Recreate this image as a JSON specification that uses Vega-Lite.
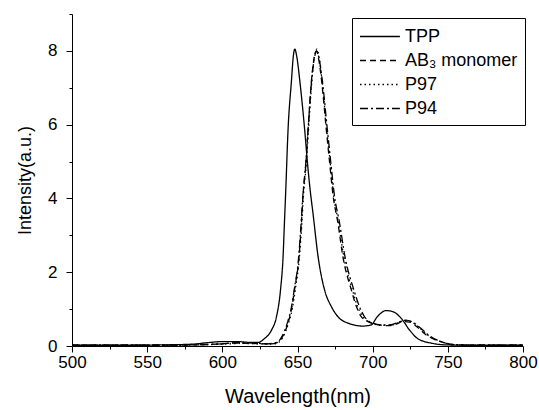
{
  "$schema": "https://vega.github.io/schema/vega-lite/v6.json",
  "width": 451,
  "height": 332,
  "autosize": "none",
  "padding": {"left": 72, "top": 14, "right": 16, "bottom": 64},
  "background": "white",
  "config": {
    "view": {"stroke": null},
    "font": "Liberation Sans",
    "axis": {"grid": false, "domainColor": "black", "tickColor": "black", "labelColor": "black", "titleColor": "black", "labelFont": "Liberation Sans", "titleFont": "Liberation Sans", "titleFontWeight": "normal", "labelFontSize": 17}
  },
  "data": {
    "values": [
      {"series": "TPP", "wl": 500, "I": 0.02},
      {"series": "TPP", "wl": 520, "I": 0.02},
      {"series": "TPP", "wl": 540, "I": 0.02},
      {"series": "TPP", "wl": 560, "I": 0.03},
      {"series": "TPP", "wl": 580, "I": 0.05},
      {"series": "TPP", "wl": 590, "I": 0.09},
      {"series": "TPP", "wl": 600, "I": 0.12},
      {"series": "TPP", "wl": 610, "I": 0.12},
      {"series": "TPP", "wl": 618, "I": 0.1},
      {"series": "TPP", "wl": 624, "I": 0.1},
      {"series": "TPP", "wl": 628, "I": 0.2},
      {"series": "TPP", "wl": 632.7, "I": 0.43},
      {"series": "TPP", "wl": 636, "I": 0.79},
      {"series": "TPP", "wl": 638.7, "I": 1.52},
      {"series": "TPP", "wl": 640.4, "I": 2.42},
      {"series": "TPP", "wl": 641.3, "I": 3.33},
      {"series": "TPP", "wl": 642.2, "I": 4.23},
      {"series": "TPP", "wl": 643.7, "I": 5.85},
      {"series": "TPP", "wl": 646, "I": 7.2},
      {"series": "TPP", "wl": 647.2, "I": 7.85},
      {"series": "TPP", "wl": 648.2, "I": 8.05},
      {"series": "TPP", "wl": 649.5, "I": 7.85},
      {"series": "TPP", "wl": 651.5, "I": 7.2},
      {"series": "TPP", "wl": 654.8, "I": 5.85},
      {"series": "TPP", "wl": 657, "I": 4.8},
      {"series": "TPP", "wl": 658.5, "I": 4.2},
      {"series": "TPP", "wl": 660.3, "I": 3.6},
      {"series": "TPP", "wl": 663.7, "I": 2.42},
      {"series": "TPP", "wl": 668, "I": 1.52},
      {"series": "TPP", "wl": 672.5, "I": 1.07},
      {"series": "TPP", "wl": 677, "I": 0.79},
      {"series": "TPP", "wl": 683.6, "I": 0.62},
      {"series": "TPP", "wl": 693.5, "I": 0.54},
      {"series": "TPP", "wl": 699, "I": 0.57},
      {"series": "TPP", "wl": 703, "I": 0.79},
      {"series": "TPP", "wl": 709, "I": 0.96},
      {"series": "TPP", "wl": 713.5, "I": 0.93},
      {"series": "TPP", "wl": 719, "I": 0.75},
      {"series": "TPP", "wl": 724.6, "I": 0.43},
      {"series": "TPP", "wl": 730, "I": 0.2},
      {"series": "TPP", "wl": 740, "I": 0.07},
      {"series": "TPP", "wl": 749, "I": 0.03},
      {"series": "TPP", "wl": 770, "I": 0.02},
      {"series": "TPP", "wl": 800, "I": 0.02},

      {"series": "AB₃ monomer", "wl": 500, "I": 0.02},
      {"series": "AB₃ monomer", "wl": 540, "I": 0.02},
      {"series": "AB₃ monomer", "wl": 580, "I": 0.03},
      {"series": "AB₃ monomer", "wl": 600, "I": 0.06},
      {"series": "AB₃ monomer", "wl": 610, "I": 0.08},
      {"series": "AB₃ monomer", "wl": 620, "I": 0.07},
      {"series": "AB₃ monomer", "wl": 628, "I": 0.06},
      {"series": "AB₃ monomer", "wl": 633, "I": 0.06},
      {"series": "AB₃ monomer", "wl": 637, "I": 0.1},
      {"series": "AB₃ monomer", "wl": 640, "I": 0.25},
      {"series": "AB₃ monomer", "wl": 643.7, "I": 0.62},
      {"series": "AB₃ monomer", "wl": 646, "I": 1.0},
      {"series": "AB₃ monomer", "wl": 648, "I": 1.52},
      {"series": "AB₃ monomer", "wl": 651, "I": 2.42},
      {"series": "AB₃ monomer", "wl": 652.6, "I": 3.33},
      {"series": "AB₃ monomer", "wl": 653.7, "I": 4.1},
      {"series": "AB₃ monomer", "wl": 655.5, "I": 4.9},
      {"series": "AB₃ monomer", "wl": 657, "I": 5.85},
      {"series": "AB₃ monomer", "wl": 659.3, "I": 7.2},
      {"series": "AB₃ monomer", "wl": 661, "I": 7.8},
      {"series": "AB₃ monomer", "wl": 662.6, "I": 8.0},
      {"series": "AB₃ monomer", "wl": 664, "I": 7.8},
      {"series": "AB₃ monomer", "wl": 666, "I": 7.2},
      {"series": "AB₃ monomer", "wl": 669.2, "I": 5.85},
      {"series": "AB₃ monomer", "wl": 671.4, "I": 4.96},
      {"series": "AB₃ monomer", "wl": 673.6, "I": 4.1},
      {"series": "AB₃ monomer", "wl": 676.9, "I": 3.33},
      {"series": "AB₃ monomer", "wl": 680.2, "I": 2.42},
      {"series": "AB₃ monomer", "wl": 685.8, "I": 1.52},
      {"series": "AB₃ monomer", "wl": 689.2, "I": 1.07},
      {"series": "AB₃ monomer", "wl": 692.5, "I": 0.79},
      {"series": "AB₃ monomer", "wl": 698, "I": 0.64},
      {"series": "AB₃ monomer", "wl": 704.6, "I": 0.57},
      {"series": "AB₃ monomer", "wl": 711, "I": 0.55},
      {"series": "AB₃ monomer", "wl": 716, "I": 0.6},
      {"series": "AB₃ monomer", "wl": 720, "I": 0.66},
      {"series": "AB₃ monomer", "wl": 724.6, "I": 0.65},
      {"series": "AB₃ monomer", "wl": 730, "I": 0.5},
      {"series": "AB₃ monomer", "wl": 735.6, "I": 0.3},
      {"series": "AB₃ monomer", "wl": 741, "I": 0.18},
      {"series": "AB₃ monomer", "wl": 746.7, "I": 0.1},
      {"series": "AB₃ monomer", "wl": 752, "I": 0.04},
      {"series": "AB₃ monomer", "wl": 770, "I": 0.02},
      {"series": "AB₃ monomer", "wl": 800, "I": 0.02},

      {"series": "P97", "wl": 500, "I": 0.02},
      {"series": "P97", "wl": 540, "I": 0.02},
      {"series": "P97", "wl": 580, "I": 0.03},
      {"series": "P97", "wl": 600, "I": 0.05},
      {"series": "P97", "wl": 612, "I": 0.07},
      {"series": "P97", "wl": 622, "I": 0.06},
      {"series": "P97", "wl": 633, "I": 0.05},
      {"series": "P97", "wl": 637.5, "I": 0.1},
      {"series": "P97", "wl": 640.5, "I": 0.25},
      {"series": "P97", "wl": 644, "I": 0.62},
      {"series": "P97", "wl": 646.5, "I": 1.0},
      {"series": "P97", "wl": 648.5, "I": 1.52},
      {"series": "P97", "wl": 651.3, "I": 2.42},
      {"series": "P97", "wl": 652.9, "I": 3.33},
      {"series": "P97", "wl": 654, "I": 4.1},
      {"series": "P97", "wl": 655.8, "I": 4.9},
      {"series": "P97", "wl": 657.3, "I": 5.85},
      {"series": "P97", "wl": 659.6, "I": 7.2},
      {"series": "P97", "wl": 661.3, "I": 7.85},
      {"series": "P97", "wl": 662.9, "I": 8.05},
      {"series": "P97", "wl": 664.3, "I": 7.85},
      {"series": "P97", "wl": 666.3, "I": 7.2},
      {"series": "P97", "wl": 669.5, "I": 5.85},
      {"series": "P97", "wl": 671.8, "I": 4.96},
      {"series": "P97", "wl": 674, "I": 4.1},
      {"series": "P97", "wl": 677.3, "I": 3.33},
      {"series": "P97", "wl": 680.8, "I": 2.42},
      {"series": "P97", "wl": 686.5, "I": 1.52},
      {"series": "P97", "wl": 690, "I": 1.07},
      {"series": "P97", "wl": 693.5, "I": 0.8},
      {"series": "P97", "wl": 699, "I": 0.63},
      {"series": "P97", "wl": 705.5, "I": 0.56},
      {"series": "P97", "wl": 712, "I": 0.56},
      {"series": "P97", "wl": 717, "I": 0.63},
      {"series": "P97", "wl": 721, "I": 0.69},
      {"series": "P97", "wl": 725.5, "I": 0.66},
      {"series": "P97", "wl": 731, "I": 0.5},
      {"series": "P97", "wl": 736.5, "I": 0.3},
      {"series": "P97", "wl": 742, "I": 0.17},
      {"series": "P97", "wl": 747.5, "I": 0.09},
      {"series": "P97", "wl": 753, "I": 0.04},
      {"series": "P97", "wl": 770, "I": 0.02},
      {"series": "P97", "wl": 800, "I": 0.02},

      {"series": "P94", "wl": 500, "I": 0.02},
      {"series": "P94", "wl": 540, "I": 0.02},
      {"series": "P94", "wl": 580, "I": 0.03},
      {"series": "P94", "wl": 600, "I": 0.06},
      {"series": "P94", "wl": 610, "I": 0.09},
      {"series": "P94", "wl": 620, "I": 0.08},
      {"series": "P94", "wl": 630, "I": 0.06},
      {"series": "P94", "wl": 636.5, "I": 0.1},
      {"series": "P94", "wl": 639.5, "I": 0.25},
      {"series": "P94", "wl": 643.2, "I": 0.62},
      {"series": "P94", "wl": 645.7, "I": 1.0},
      {"series": "P94", "wl": 647.8, "I": 1.52},
      {"series": "P94", "wl": 650.8, "I": 2.42},
      {"series": "P94", "wl": 652.4, "I": 3.33},
      {"series": "P94", "wl": 653.6, "I": 4.1},
      {"series": "P94", "wl": 655.4, "I": 4.9},
      {"series": "P94", "wl": 657, "I": 5.85},
      {"series": "P94", "wl": 659.4, "I": 7.2},
      {"series": "P94", "wl": 661.2, "I": 7.8},
      {"series": "P94", "wl": 662.8, "I": 8.0},
      {"series": "P94", "wl": 664.3, "I": 7.8},
      {"series": "P94", "wl": 666.5, "I": 7.2},
      {"series": "P94", "wl": 669.9, "I": 5.85},
      {"series": "P94", "wl": 672.2, "I": 4.96},
      {"series": "P94", "wl": 674.5, "I": 4.1},
      {"series": "P94", "wl": 678, "I": 3.33},
      {"series": "P94", "wl": 681.6, "I": 2.42},
      {"series": "P94", "wl": 687.5, "I": 1.52},
      {"series": "P94", "wl": 691.2, "I": 1.07},
      {"series": "P94", "wl": 694.5, "I": 0.8},
      {"series": "P94", "wl": 700, "I": 0.62},
      {"series": "P94", "wl": 706, "I": 0.57},
      {"series": "P94", "wl": 712.5, "I": 0.58},
      {"series": "P94", "wl": 717.5, "I": 0.65},
      {"series": "P94", "wl": 722, "I": 0.7},
      {"series": "P94", "wl": 726.5, "I": 0.65},
      {"series": "P94", "wl": 732, "I": 0.48},
      {"series": "P94", "wl": 737.5, "I": 0.29},
      {"series": "P94", "wl": 743, "I": 0.16},
      {"series": "P94", "wl": 748.5, "I": 0.08},
      {"series": "P94", "wl": 754, "I": 0.04},
      {"series": "P94", "wl": 770, "I": 0.02},
      {"series": "P94", "wl": 800, "I": 0.02}
    ]
  },
  "mark": {"type": "line", "strokeWidth": 1.3, "interpolate": "monotone", "clip": true},
  "encoding": {
    "x": {
      "field": "wl", "type": "quantitative",
      "scale": {"domain": [500, 800], "nice": false, "zero": false},
      "axis": {
        "title": "Wavelength(nm)",
        "titleFontSize": 20,
        "values": [500, 525, 550, 575, 600, 625, 650, 675, 700, 725, 750, 775, 800],
        "labelExpr": "datum.value % 50 === 0 ? datum.label : ''",
        "tickSize": {"condition": {"test": "datum.value % 50 === 0", "value": 6}, "value": 3},
        "labelPadding": 2,
        "titlePadding": 16,
        "labelFlush": false,
        "labelOverlap": false
      }
    },
    "y": {
      "field": "I", "type": "quantitative",
      "scale": {"domain": [0, 9], "nice": false},
      "axis": {
        "title": "Intensity(a.u.)",
        "titleFontSize": 18,
        "values": [0, 1, 2, 3, 4, 5, 6, 7, 8, 9],
        "labelExpr": "datum.value % 2 === 0 ? datum.label : ''",
        "tickSize": {"condition": {"test": "datum.value % 2 === 0", "value": 6}, "value": 3},
        "labelPadding": 9,
        "titlePadding": 13,
        "labelFlush": false,
        "labelOverlap": false
      }
    },
    "color": {
      "field": "series", "type": "nominal",
      "scale": {"domain": ["TPP", "AB₃ monomer", "P97", "P94"], "range": ["black", "black", "black", "black"]},
      "legend": {
        "title": null,
        "orient": "none",
        "legendX": 280,
        "legendY": 4,
        "symbolType": "M-1,0H2.8",
        "symbolSize": 441,
        "symbolStrokeWidth": 1.3,
        "symbolFillColor": "transparent",
        "labelFontSize": 18,
        "labelFont": "Liberation Sans",
        "labelColor": "black",
        "labelOffset": 23,
        "padding": 7,
        "rowPadding": 3,
        "strokeColor": "black",
        "fillColor": "white"
      }
    },
    "strokeDash": {
      "field": "series", "type": "nominal",
      "scale": {"domain": ["TPP", "AB₃ monomer", "P97", "P94"], "range": [[1, 0], [6, 4], [1.5, 3], [8, 3, 2, 3]]}
    }
  }
}
